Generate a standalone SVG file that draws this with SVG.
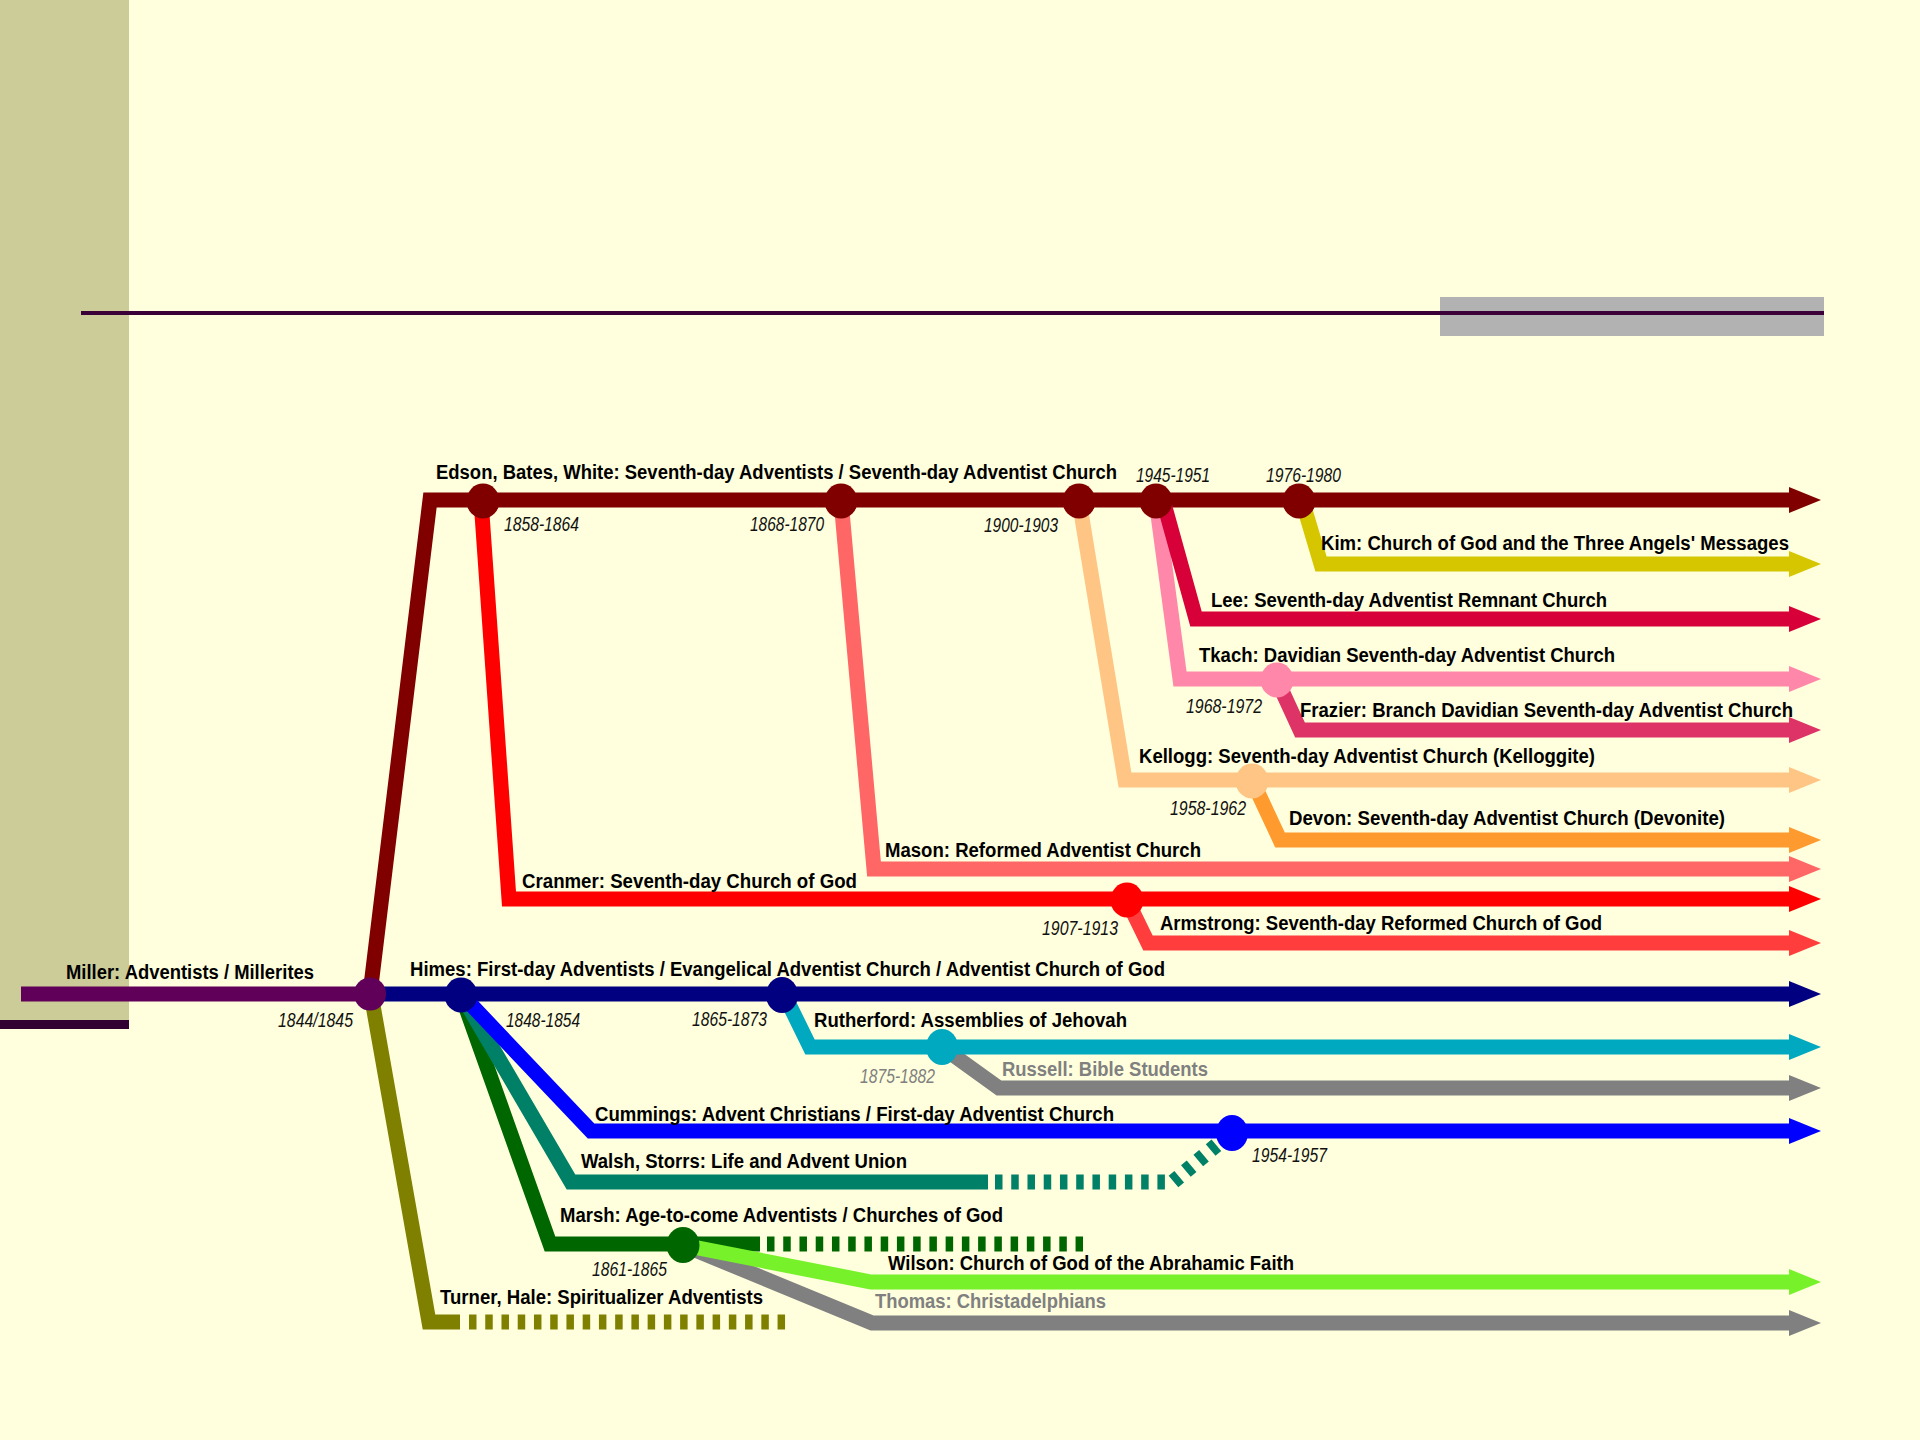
<svg xmlns="http://www.w3.org/2000/svg" xmlns:xlink="http://www.w3.org/1999/xlink" width="1920" height="1440" viewBox="0 0 1920 1440">
<style>
.ln{fill:none;stroke-width:15;stroke-linejoin:miter;stroke-linecap:butt}
.ds{stroke-dasharray:7.5 8.74}
.lb{font-family:"Liberation Sans",Arial,sans-serif;font-size:19.5px;font-weight:bold;fill:#000}
.dt{font-family:"Liberation Sans",Arial,sans-serif;font-size:20px;font-style:italic;fill:#111}
.gr{fill:#808080}
</style>
<defs>
<path id="ah" d="M0,-13 L32,0 L0,13 Z"/>
</defs>
<rect width="1920" height="1440" fill="#FFFFDD"/>
<rect x="0" y="0" width="129" height="1020" fill="#CCCC99"/>
<rect x="0" y="1020" width="129" height="9" fill="#330033"/>
<rect x="1440" y="297" width="384" height="39" fill="#B2B2B2"/>
<rect x="81" y="311" width="1743" height="4" fill="#3C0038"/>

<g id="connectors">
<path class="ln" stroke="#600058" d="M21,994 L371,994"/>
<path class="ln" stroke="#808000" d="M371,994 L429,1322 L460,1322"/>
<path class="ln ds" stroke="#808000" d="M469,1322 L786,1322"/>
<path class="ln" stroke="#000080" d="M371,994 L1790,994"/>
<use href="#ah" x="1789" y="994" fill="#000080"/>
<path class="ln" stroke="#800000" d="M370,994 L430,500 L1790,500"/>
<use href="#ah" x="1789" y="500" fill="#800000"/>
<path class="ln" stroke="#FF0000" d="M481,500 L509,899 L1790,899"/>
<use href="#ah" x="1789" y="899" fill="#FF0000"/>
<path class="ln" stroke="#FF6666" d="M841,500 L874,869 L1790,869"/>
<use href="#ah" x="1789" y="869" fill="#FF6666"/>
<path class="ln" stroke="#FFC585" d="M1079,500 L1125,780 L1790,780"/>
<use href="#ah" x="1789" y="780" fill="#FFC585"/>
<path class="ln" stroke="#FF9A2E" d="M1252,780 L1280,840 L1790,840"/>
<use href="#ah" x="1789" y="840" fill="#FF9A2E"/>
<path class="ln" stroke="#FF88AA" d="M1156,500 L1180,679 L1790,679"/>
<use href="#ah" x="1789" y="679" fill="#FF88AA"/>
<path class="ln" stroke="#D80038" d="M1163,500 L1196,619 L1790,619"/>
<use href="#ah" x="1789" y="619" fill="#D80038"/>
<path class="ln" stroke="#DD3366" d="M1277,680 L1300,730 L1790,730"/>
<use href="#ah" x="1789" y="730" fill="#DD3366"/>
<path class="ln" stroke="#D6C600" d="M1302,500 L1321,564 L1790,564"/>
<use href="#ah" x="1789" y="564" fill="#D6C600"/>
<path class="ln" stroke="#FF3D3D" d="M1127,900 L1148,943 L1790,943"/>
<use href="#ah" x="1789" y="943" fill="#FF3D3D"/>
<path class="ln" stroke="#808080" d="M942,1047 L999,1088 L1790,1088"/>
<use href="#ah" x="1789" y="1088" fill="#808080"/>
<path class="ln" stroke="#00A8C0" d="M784,994 L810,1047 L1790,1047"/>
<use href="#ah" x="1789" y="1047" fill="#00A8C0"/>
<path class="ln" stroke="#006600" d="M461,994 L550,1244 L760,1244"/>
<path class="ln ds" stroke="#006600" d="M767,1244 L1083,1244"/>
<path class="ln" stroke="#008066" d="M461,994 L571,1182 L988,1182"/>
<path class="ln ds" stroke="#008066" d="M995,1182 L1173,1182 L1232,1132"/>
<path class="ln" stroke="#0000FF" d="M461,994 L591,1131 L1790,1131"/>
<use href="#ah" x="1789" y="1131" fill="#0000FF"/>
<path class="ln" stroke="#808080" d="M683,1245 L872,1323 L1790,1323"/>
<use href="#ah" x="1789" y="1323" fill="#808080"/>
<path class="ln" stroke="#77F22A" d="M683,1245 L871,1282 L1790,1282"/>
<use href="#ah" x="1789" y="1282" fill="#77F22A"/>
</g>

<g id="node-1844"><ellipse cx="370" cy="994" rx="16" ry="16.5" fill="#600058"/><text class="dt" x="278" y="1027" textLength="75" lengthAdjust="spacingAndGlyphs">1844/1845</text></g>
<g id="node-1858"><ellipse cx="483" cy="501" rx="16.5" ry="17.5" fill="#800000"/><text class="dt" x="504" y="531" textLength="75" lengthAdjust="spacingAndGlyphs">1858-1864</text></g>
<g id="node-1868"><ellipse cx="841" cy="501" rx="16.5" ry="17.5" fill="#800000"/><text class="dt" x="750" y="531" textLength="74" lengthAdjust="spacingAndGlyphs">1868-1870</text></g>
<g id="node-1900"><ellipse cx="1079" cy="501" rx="16.5" ry="17.5" fill="#800000"/><text class="dt" x="984" y="532" textLength="74" lengthAdjust="spacingAndGlyphs">1900-1903</text></g>
<g id="node-1945"><ellipse cx="1156" cy="501" rx="16.5" ry="17.5" fill="#800000"/><text class="dt" x="1136" y="482" textLength="74" lengthAdjust="spacingAndGlyphs">1945-1951</text></g>
<g id="node-1976"><ellipse cx="1299" cy="501" rx="16.5" ry="17.5" fill="#800000"/><text class="dt" x="1266" y="482" textLength="75" lengthAdjust="spacingAndGlyphs">1976-1980</text></g>
<g id="node-1968"><ellipse cx="1277" cy="680" rx="16.5" ry="17.5" fill="#FF88AA"/><text class="dt" x="1186" y="713" textLength="76" lengthAdjust="spacingAndGlyphs">1968-1972</text></g>
<g id="node-1958"><ellipse cx="1252" cy="781" rx="16.5" ry="17.5" fill="#FFC585"/><text class="dt" x="1170" y="815" textLength="76" lengthAdjust="spacingAndGlyphs">1958-1962</text></g>
<g id="node-1907"><ellipse cx="1127" cy="900" rx="16.5" ry="17.5" fill="#FF0000"/><text class="dt" x="1042" y="935" textLength="76" lengthAdjust="spacingAndGlyphs">1907-1913</text></g>
<g id="node-1848"><ellipse cx="461" cy="995" rx="16.5" ry="17.5" fill="#000080"/><text class="dt" x="506" y="1027" textLength="74" lengthAdjust="spacingAndGlyphs">1848-1854</text></g>
<g id="node-1865"><ellipse cx="782" cy="995" rx="16" ry="18" fill="#000080"/><text class="dt" x="692" y="1026" textLength="75" lengthAdjust="spacingAndGlyphs">1865-1873</text></g>
<g id="node-1875"><ellipse cx="942" cy="1047" rx="16" ry="18" fill="#00A8C0"/><text class="dt gr" x="860" y="1083" textLength="75" lengthAdjust="spacingAndGlyphs">1875-1882</text></g>
<g id="node-1954"><ellipse cx="1232" cy="1133" rx="16" ry="18" fill="#0000FF"/><text class="dt" x="1252" y="1162" textLength="75" lengthAdjust="spacingAndGlyphs">1954-1957</text></g>
<g id="node-1861"><ellipse cx="683" cy="1245" rx="16.5" ry="18" fill="#006600"/><text class="dt" x="592" y="1276" textLength="75" lengthAdjust="spacingAndGlyphs">1861-1865</text></g>

<g id="labels">
<text id="lbl-miller" class="lb" x="66" y="979" textLength="248" lengthAdjust="spacingAndGlyphs">Miller: Adventists / Millerites</text>
<text id="lbl-edson" class="lb" transform="scale(0.82,1)" x="531.7" y="479" textLength="830.5" lengthAdjust="spacingAndGlyphs">Edson, Bates, White: Seventh-day Adventists / Seventh-day Adventist Church</text>
<text id="lbl-kim" class="lb" x="1321" y="550" textLength="468" lengthAdjust="spacingAndGlyphs">Kim: Church of God and the Three Angels' Messages</text>
<text id="lbl-lee" class="lb" x="1211" y="607" textLength="396" lengthAdjust="spacingAndGlyphs">Lee: Seventh-day Adventist Remnant Church</text>
<text id="lbl-tkach" class="lb" x="1199" y="662" textLength="416" lengthAdjust="spacingAndGlyphs">Tkach: Davidian Seventh-day Adventist Church</text>
<text id="lbl-frazier" class="lb" x="1300" y="717" textLength="493" lengthAdjust="spacingAndGlyphs">Frazier: Branch Davidian Seventh-day Adventist Church</text>
<text id="lbl-kellogg" class="lb" x="1139" y="763" textLength="456" lengthAdjust="spacingAndGlyphs">Kellogg: Seventh-day Adventist Church (Kelloggite)</text>
<text id="lbl-devon" class="lb" x="1289" y="825" textLength="436" lengthAdjust="spacingAndGlyphs">Devon: Seventh-day Adventist Church (Devonite)</text>
<text id="lbl-mason" class="lb" x="885" y="857" textLength="316" lengthAdjust="spacingAndGlyphs">Mason: Reformed Adventist Church</text>
<text id="lbl-cranmer" class="lb" x="522" y="888" textLength="335" lengthAdjust="spacingAndGlyphs">Cranmer: Seventh-day Church of God</text>
<text id="lbl-armstrong" class="lb" x="1160" y="930" textLength="442" lengthAdjust="spacingAndGlyphs">Armstrong: Seventh-day Reformed Church of God</text>
<text id="lbl-himes" class="lb" x="410" y="976" textLength="755" lengthAdjust="spacingAndGlyphs">Himes: First-day Adventists / Evangelical Adventist Church / Adventist Church of God</text>
<text id="lbl-rutherford" class="lb" x="814" y="1027" textLength="313" lengthAdjust="spacingAndGlyphs">Rutherford: Assemblies of Jehovah</text>
<text id="lbl-russell" class="lb gr" x="1002" y="1076" textLength="206" lengthAdjust="spacingAndGlyphs">Russell: Bible Students</text>
<text id="lbl-cummings" class="lb" x="595" y="1121" textLength="519" lengthAdjust="spacingAndGlyphs">Cummings: Advent Christians / First-day Adventist Church</text>
<text id="lbl-walsh" class="lb" x="581" y="1168" textLength="326" lengthAdjust="spacingAndGlyphs">Walsh, Storrs: Life and Advent Union</text>
<text id="lbl-marsh" class="lb" x="560" y="1222" textLength="443" lengthAdjust="spacingAndGlyphs">Marsh: Age-to-come Adventists / Churches of God</text>
<text id="lbl-wilson" class="lb" x="888" y="1270" textLength="406" lengthAdjust="spacingAndGlyphs">Wilson: Church of God of the Abrahamic Faith</text>
<text id="lbl-thomas" class="lb gr" x="875" y="1308" textLength="231" lengthAdjust="spacingAndGlyphs">Thomas: Christadelphians</text>
<text id="lbl-turner" class="lb" x="440" y="1304" textLength="323" lengthAdjust="spacingAndGlyphs">Turner, Hale: Spiritualizer Adventists</text>
</g>
</svg>
